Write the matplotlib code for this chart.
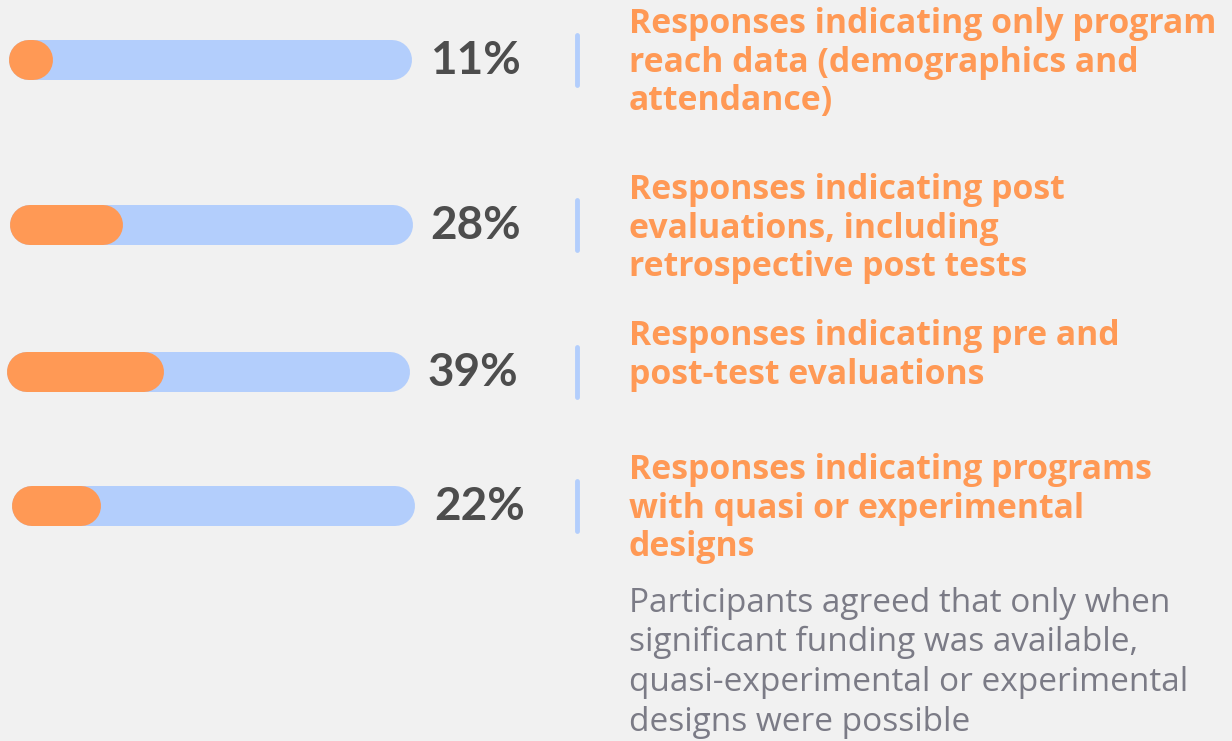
import matplotlib.pyplot as plt

# values
pct = [11, 28, 39, 22]
pct_labels = ["11%", "28%", "39%", "22%"]
descriptions = [
    ["Responses indicating only program", "reach data (demographics and", "attendance)"],
    ["Responses indicating post", "evaluations, including", "retrospective post tests"],
    ["Responses indicating pre and", "post-test evaluations"],
    ["Responses indicating programs", "with quasi or experimental", "designs"],
]
note = [
    "Participants agreed that only when",
    "significant funding was available,",
    "quasi-experimental or experimental",
    "designs were possible",
]

# layout (pixels)
bar_x0 = [9, 10, 7, 12]
bar_y = [60, 225, 372, 506]
bar_w = 403
bar_h = 40
pct_x = [430, 430, 428, 434]
desc_y0 = [24, 190, 336, 470]
line_step = 38.5

BG = "#f1f1f1"
BLUE = "#b3cefc"
ORANGE = "#ff9955"
DARK = "#4d4d4d"
GREY = "#7b7b86"

fig = plt.figure(figsize=(12.32, 7.41), dpi=100, facecolor=BG)
ax = fig.add_axes([0, 0, 1, 1])
ax.set_xlim(0, 1232)
ax.set_ylim(741, 0)
ax.set_facecolor(BG)
ax.axis("off")

lw = bar_h * 72 / 100  # line width in points to get bar_h pixels
r = bar_h / 2

for i, p in enumerate(pct):
    x0 = bar_x0[i]
    y = bar_y[i]
    # background track
    ax.plot([x0 + r, x0 + bar_w - r], [y, y], color=BLUE, lw=lw,
            solid_capstyle="round", zorder=1)
    # filled part
    fill = bar_w * p / 100
    ax.plot([x0 + r, x0 + max(fill, bar_h) - r], [y, y], color=ORANGE, lw=lw,
            solid_capstyle="round", zorder=2)
    ax.text(pct_x[i], y + 1, pct_labels[i], ha="left", va="center",
            fontsize=33, fontweight="bold", family="Lato", color=DARK)
    # divider
    ax.plot([577, 577], [y - 25, y + 25], color=BLUE, lw=3.5,
            solid_capstyle="round")
    for j, line in enumerate(descriptions[i]):
        ax.text(629, desc_y0[i] + j * line_step, line, ha="left", va="center",
                fontsize=24.3, fontweight="bold", family="Open Sans", color=ORANGE)

for j, line in enumerate(note):
    ax.text(629, 603 + j * 39.7, line, ha="left", va="center",
            fontsize=24, family="Open Sans", color=GREY)

fig.savefig("out.png", dpi=100, facecolor=BG)
